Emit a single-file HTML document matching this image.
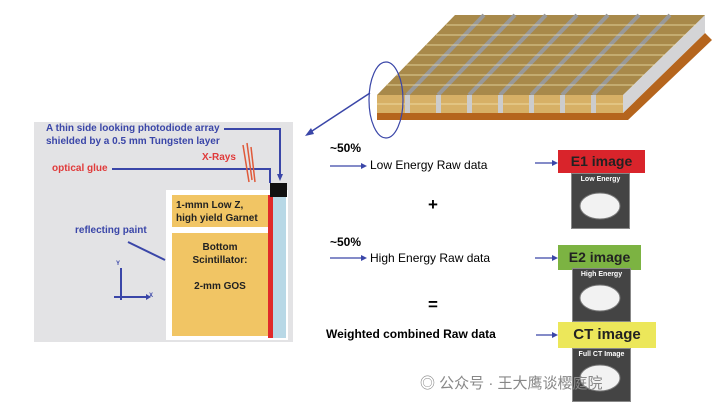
<!DOCTYPE html>
<html><head><meta charset="utf-8"><style>
body{margin:0;width:722px;height:411px;background:#fff;position:relative;overflow:hidden;font-family:"Liberation Sans","Noto Sans CJK SC",sans-serif}
.a{position:absolute}
.b{font-weight:bold}
.ct{position:absolute;background:#444;border:1px solid #888;}
.ct span{display:block;text-align:center;color:#fff;font-size:7px;font-weight:bold;margin-top:2px}
</style></head><body>
<svg class="a" style="left:0;top:0" width="722" height="411">
<rect x="34" y="122" width="259" height="220" fill="#e3e3e5"/>
<rect x="166" y="190" width="122" height="150" fill="#fff"/>
<rect x="172" y="195" width="96" height="32" fill="#f1c564"/>
<rect x="172" y="233" width="96" height="103" fill="#f1c564"/>
<rect x="273" y="190" width="13" height="148" fill="#b8d8e6"/>
<rect x="268" y="195" width="5" height="143" fill="#e02a2a"/>
<rect x="270" y="183" width="17" height="14" fill="#111"/>
<g stroke="#3a46a8" stroke-width="2" fill="none">
<polyline points="224,129 280,129 280,175"/>
<polyline points="112,169 270,169 270,183"/>
<line x1="128" y1="242" x2="165" y2="260"/>
<line x1="121" y1="268" x2="121" y2="300"/><line x1="114" y1="297" x2="146" y2="297"/>
</g>
<polygon points="277,174 283,174 280,181" fill="#3a46a8"/>
<polygon points="146,294 151,297 146,300" fill="#3a46a8"/>
<g stroke="#e05a3a" stroke-width="1.5"><line x1="243" y1="145" x2="249" y2="182"/><line x1="247" y1="143" x2="252" y2="180"/><line x1="251" y1="147" x2="255" y2="182"/></g>
<polygon points="623,113 705,33 712,40 628,120 377,120 377,113" fill="#b5651d"/>
<polygon points="623,95 705,15 705,33 623,113" fill="#d4d4d6"/>
<polygon points="377,95 623,95 623,113 377,113" fill="#d7b066"/>
<polygon points="455,15 705,15 623,95 377,95" fill="#a8894a"/>
<g stroke="#999" stroke-width="4">
<line x1="484" y1="15" x2="407" y2="95"/><line x1="515" y1="15" x2="438" y2="95"/><line x1="546" y1="15" x2="469" y2="95"/><line x1="577" y1="15" x2="500" y2="95"/><line x1="608" y1="15" x2="531" y2="95"/><line x1="639" y1="15" x2="562" y2="95"/><line x1="670" y1="15" x2="593" y2="95"/>
</g>
<g stroke="#f5e6b0" stroke-width="0.8">
<line x1="446" y1="25" x2="696" y2="25"/><line x1="436" y1="35" x2="686" y2="35"/><line x1="426" y1="45" x2="676" y2="45"/><line x1="416" y1="55" x2="665" y2="55"/><line x1="406" y1="65" x2="655" y2="65"/><line x1="396" y1="75" x2="644" y2="75"/><line x1="386" y1="85" x2="634" y2="85"/><line x1="377" y1="104" x2="623" y2="104"/>
</g>
<g fill="#ccc"><rect x="405" y="95" width="5" height="18"/><rect x="436" y="95" width="5" height="18"/><rect x="467" y="95" width="5" height="18"/><rect x="498" y="95" width="5" height="18"/><rect x="529" y="95" width="5" height="18"/><rect x="560" y="95" width="5" height="18"/><rect x="591" y="95" width="5" height="18"/></g>
<ellipse cx="386" cy="100" rx="17" ry="38" fill="none" stroke="#3a46a8" stroke-width="1.2"/>
<line x1="370" y1="93" x2="309" y2="133" stroke="#3a46a8" stroke-width="1.5"/>
<polygon points="305,136 311,128 314,134" fill="#3a46a8"/>
<g stroke="#3a46a8" stroke-width="1.2"><line x1="330" y1="166" x2="363" y2="166"/><line x1="330" y1="258" x2="363" y2="258"/><line x1="535" y1="163" x2="554" y2="163"/><line x1="535" y1="258" x2="554" y2="258"/><line x1="536" y1="335" x2="554" y2="335"/></g>
<g fill="#3a46a8"><polygon points="367,166 361,163 361,169"/><polygon points="367,258 361,255 361,261"/><polygon points="558,163 552,160 552,166"/><polygon points="558,258 552,255 552,261"/><polygon points="558,335 552,332 552,338"/></g>
</svg>
<div class="a b" style="left:46px;top:122px;font-size:10px;color:#3a46a8;line-height:13px">A thin side looking photodiode array<br>shielded by a 0.5 mm Tungsten layer</div>
<div class="a b" style="left:52px;top:163px;font-size:10px;color:#e03a3a">optical glue</div>
<div class="a b" style="left:202px;top:152px;font-size:10px;color:#e03a3a">X-Rays</div>
<div class="a b" style="left:75px;top:225px;font-size:10px;color:#3a46a8">reflecting paint</div>
<div class="a b" style="left:116px;top:261px;font-size:6px;color:#3a46a8">Y</div>
<div class="a b" style="left:149px;top:293px;font-size:6px;color:#3a46a8">X</div>
<div class="a b" style="left:176px;top:199px;font-size:10px;line-height:13px;color:#222">1-mmn Low Z,<br>high yield Garnet</div>
<div class="a b" style="left:172px;top:241px;width:96px;text-align:center;font-size:10px;line-height:13px;color:#222">Bottom<br>Scintillator:<br><br>2-mm GOS</div>
<div class="a b" style="left:330px;top:141px;font-size:12px">~50%</div>
<div class="a" style="left:370px;top:158px;font-size:12px">Low Energy Raw data</div>
<div class="a b" style="left:428px;top:195px;font-size:17px">+</div>
<div class="a b" style="left:330px;top:235px;font-size:12px">~50%</div>
<div class="a" style="left:370px;top:251px;font-size:12px">High Energy Raw data</div>
<div class="a b" style="left:428px;top:295px;font-size:17px">=</div>
<div class="a b" style="left:326px;top:327px;font-size:12px">Weighted combined Raw data</div>
<div class="a b" style="left:558px;top:150px;width:87px;height:23px;background:#d9242b;font-size:14px;text-align:center;line-height:23px;color:#222">E1 image</div>
<div class="ct" style="left:571px;top:173px;width:57px;height:54px"><span>Low Energy</span></div>
<div class="a b" style="left:558px;top:245px;width:83px;height:25px;background:#7cb342;font-size:14px;text-align:center;line-height:25px;color:#222">E2 image</div>
<div class="ct" style="left:572px;top:268px;width:57px;height:52px"><span>High Energy</span></div>
<div class="a b" style="left:558px;top:322px;width:98px;height:26px;background:#ece75a;font-size:15px;text-align:center;line-height:26px;color:#222">CT image</div>
<div class="ct" style="left:572px;top:348px;width:57px;height:52px"><span>Full CT Image</span></div>
<svg class="a" style="left:0;top:0" width="722" height="411"><g fill="#f2f2f2" stroke="#777" stroke-width="1">
<ellipse cx="600" cy="206" rx="20" ry="13"/><ellipse cx="600" cy="298" rx="20" ry="13"/><ellipse cx="600" cy="378" rx="20" ry="13"/></g></svg>
<div class="a" style="left:420px;top:372px;font-size:15px;color:#888">◎ 公众号 · 王大鹰谈樱庭院</div>
</body></html>
